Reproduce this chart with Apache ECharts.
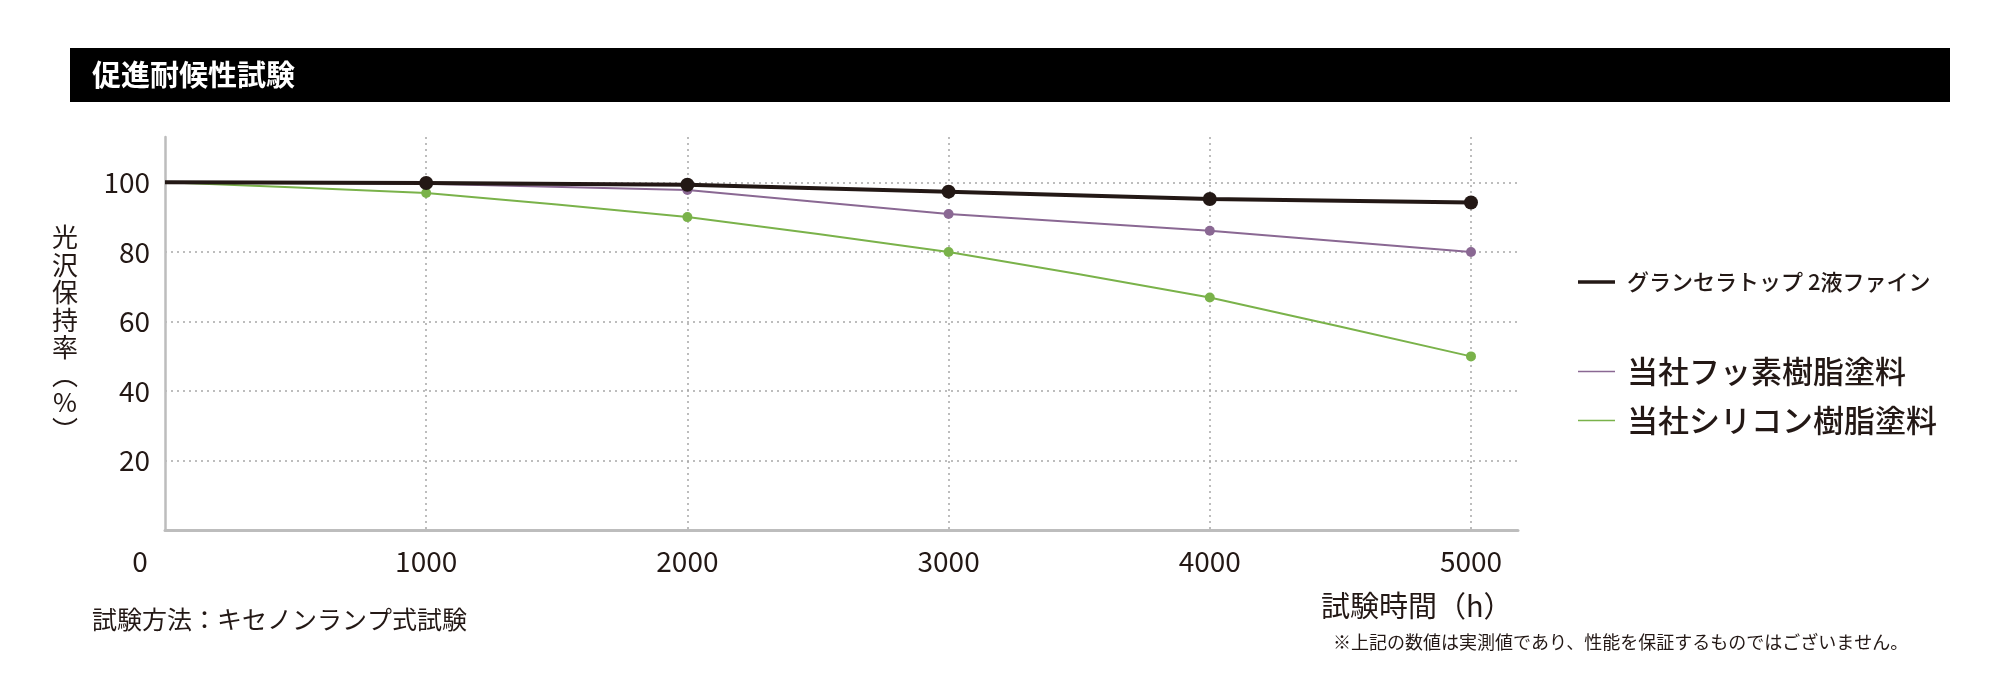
<!DOCTYPE html>
<html>
<head>
<meta charset="utf-8">
<script src="https://cdn.jsdelivr.net/npm/echarts@6/dist/echarts.min.js"></script>
<style>
html,body{margin:0;padding:0;background:#fff;}
#chart{width:2000px;height:700px;}
</style>
</head>
<body>
<div id="chart"></div>
<script>
const hours = [0, 1000, 2000, 3000, 4000, 5000];
const seriesNames = ['グランセラトップ 2液ファイン', '当社フッ素樹脂塗料', '当社シリコン樹脂塗料'];
const granceraTop = [100, 99.8, 99.3, 97.3, 95.2, 94.2];
const fluorine = [100, 99.6, 97.8, 90.9, 86.1, 80];
const silicone = [100, 96.9, 90, 80, 66.9, 50];
const yTicks = [20, 40, 60, 80, 100];

const FONT = '"Noto Sans CJK JP", "Noto Sans", sans-serif';
const DARK = '#231815';
const C_BLACK = '#231815';
const C_PURPLE = '#8a6893';
const C_GREEN = '#7ab24a';

function pts(vals){
  return hours.map((h,i)=> i===0 ? {value:[h, vals[i]], symbol:'none'} : [h, vals[i]]);
}

const chart = echarts.init(document.getElementById('chart'), null, {renderer:'canvas'});
chart.setOption({
  animation:false,
  backgroundColor:'#fff',
  textStyle:{fontFamily:FONT, color:DARK},
  grid:{left:165, right:482, top:137, bottom:169.5, containLabel:false},
  xAxis:{
    type:'value', min:0, max:5180, interval:1000,
    axisLine:{show:true, lineStyle:{color:'#bdbdbd', width:3}},
    axisTick:{show:false},
    axisLabel:{
      show:true, margin:17, fontSize:28, color:DARK, fontFamily:FONT,
      showMaxLabel:false,
      formatter:(v)=> v===0 ? '{z|0}' : (v%1000===0 ? String(v) : ''),
      rich:{z:{fontSize:28, color:DARK, fontFamily:FONT, padding:[0,50,0,0]}}
    },
    splitLine:{show:true, showMinLine:false, showMaxLine:false, lineStyle:{color:'#a8a8a8', width:1.5, type:[2,4]}}
  },
  yAxis:{
    type:'value', min:0, max:113, interval:20,
    axisLine:{show:true, lineStyle:{color:'#bdbdbd', width:2.5}},
    axisTick:{show:false},
    axisLabel:{
      margin:15, fontSize:28, color:DARK, fontFamily:FONT,
      showMinLabel:false, showMaxLabel:false,
      formatter:(v)=> yTicks.includes(v) ? String(v) : ''
    },
    splitLine:{show:true, showMinLine:false, showMaxLine:false, lineStyle:{color:'#a8a8a8', width:1.5, type:[2,4]}},
    name:'光\n沢\n保\n持\n率\n︵\n%\n︶',
    nameLocation:'middle', nameRotate:0, nameGap:100,
    nameTextStyle:{fontSize:26, lineHeight:27.5, color:DARK, fontFamily:FONT, align:'center', verticalAlign:'middle'}
  },
  legend:[
    {orient:'vertical', left:1573, top:266, itemWidth:37, itemHeight:3.5, itemGap:0,
     data:[{name:seriesNames[0], icon:'rect'}],
     textStyle:{fontSize:22, color:DARK, fontFamily:FONT, fontWeight:500, padding:[0,0,0,7]}},
    {orient:'vertical', left:1573, top:351, itemWidth:37, itemHeight:1.5, itemGap:0,
     data:[{name:seriesNames[1], icon:'rect'}],
     textStyle:{fontSize:31, color:DARK, fontFamily:FONT, fontWeight:500, padding:[0,0,0,7]}},
    {orient:'vertical', left:1573, top:400, itemWidth:37, itemHeight:1.5, itemGap:0,
     data:[{name:seriesNames[2], icon:'rect'}],
     textStyle:{fontSize:31, color:DARK, fontFamily:FONT, fontWeight:500, padding:[0,0,0,7]}}
  ],
  series:[
    {name:seriesNames[2], type:'line', data:pts(silicone), smooth:0.12, z:2,
     symbol:'circle', symbolSize:10, showAllSymbol:true,
     lineStyle:{color:C_GREEN, width:2}, itemStyle:{color:C_GREEN}},
    {name:seriesNames[1], type:'line', data:pts(fluorine), z:3,
     symbol:'circle', symbolSize:10, showAllSymbol:true,
     lineStyle:{color:C_PURPLE, width:2}, itemStyle:{color:C_PURPLE}},
    {name:seriesNames[0], type:'line', data:pts(granceraTop), z:4,
     symbol:'circle', symbolSize:14, showAllSymbol:true,
     lineStyle:{color:C_BLACK, width:4}, itemStyle:{color:C_BLACK}}
  ],
  graphic:[
    {type:'rect', left:70, top:48, shape:{width:1880, height:54}, style:{fill:'#000'}, silent:true},
    {type:'text', left:92, top:60, style:{text:'促進耐候性試験', fill:'#fff', font:'bold 29px ' + FONT}, silent:true},
    {type:'text', left:1321, top:591, style:{text:'試験時間（h）', fill:DARK, font:'29px ' + FONT}, silent:true},
    {type:'text', left:92, top:607, style:{text:'試験方法：キセノンランプ式試験', fill:DARK, font:'25px ' + FONT}, silent:true},
    {type:'text', left:1333, top:633, style:{text:'※上記の数値は実測値であり、性能を保証するものではございません。', fill:DARK, font:'18px ' + FONT}, silent:true}
  ]
});
</script>
</body>
</html>
